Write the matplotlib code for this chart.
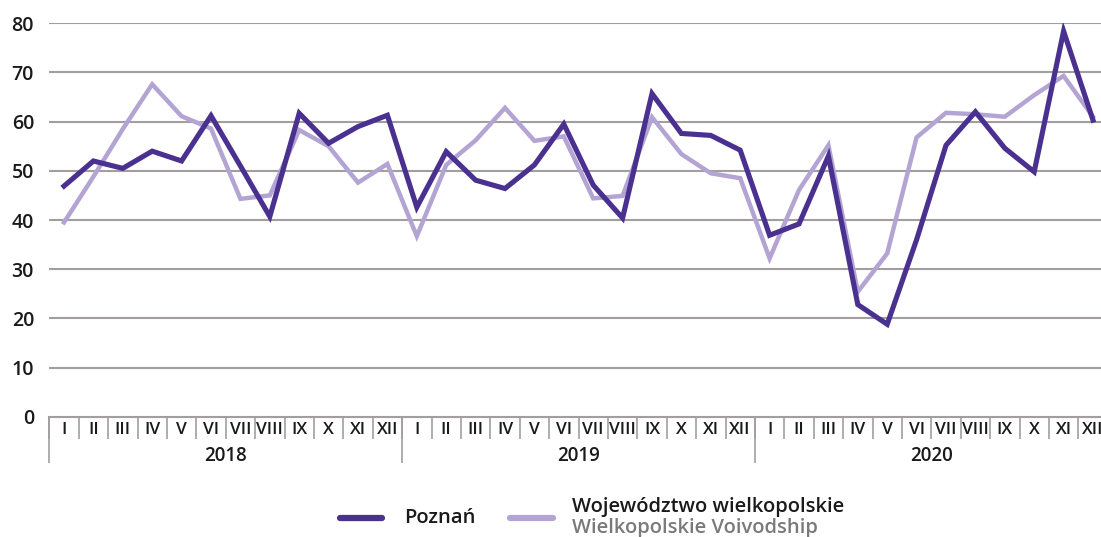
"""
Poznań vs Województwo wielkopolskie, monthly index 2018-2020.
"""

import matplotlib
matplotlib.use("Agg")
import matplotlib.pyplot as plt
from matplotlib.lines import Line2D
import numpy as np

plt.rcParams["font.family"] = ["Open Sans", "DejaVu Sans"]
plt.rcParams["font.weight"] = "semibold"

MONTHS = ["I", "II", "III", "IV", "V", "VI", "VII", "VIII", "IX", "X", "XI", "XII"]
YEARS = ["2018", "2019", "2020"]
MONTH_LABELS = MONTHS * len(YEARS)

POZNAN = [46.9, 52.0, 50.5, 54.0, 52.0, 61.2, 51.0, 40.7, 61.7, 55.6, 59.0, 61.3,
          42.6, 53.9, 48.1, 46.4, 51.2, 59.5, 47.1, 40.4, 65.7, 57.6, 57.2, 54.2,
          36.9, 39.2, 53.0, 22.8, 18.8, 36.0, 55.2, 62.0, 54.6, 49.8, 78.4, 60.3]
WIELKOPOLSKIE = [39.5, 48.8, 58.5, 67.6, 61.1, 58.6, 44.3, 45.0, 58.3, 55.0, 47.6, 51.4,
                 36.7, 51.2, 56.2, 62.8, 56.1, 57.0, 44.4, 44.9, 60.9, 53.4, 49.5, 48.5,
                 32.2, 46.1, 55.2, 25.4, 33.2, 56.8, 61.8, 61.5, 61.0, 65.4, 69.3, 61.0]

DARK = "#4a3190"
LIGHT = "#b3a4d4"
GRID = "#a29e9e"
TEXT = "#1a1a1a"

W, H, DPI = 1101, 537, 100
fig = plt.figure(figsize=(W / DPI, H / DPI), dpi=DPI)

# axes placed in pixels; right edge runs past the figure like the original crop
left, right, top, bottom = 49.3, 1107.7, 23.3, 416.7
ax = fig.add_axes([left / W, 1 - bottom / H, (right - left) / W, (bottom - top) / H])

n = len(MONTH_LABELS)
x = np.arange(n) + 0.5
ax.plot(x, WIELKOPOLSKIE, color=LIGHT, lw=3.2, solid_joinstyle="miter", zorder=3)
ax.plot(x, POZNAN, color=DARK, lw=3.7, solid_joinstyle="miter", zorder=4)

ax.set_xlim(0, n)
ax.set_ylim(0, 80)
ax.set_yticks(np.arange(0, 81, 10))
ax.tick_params(axis="y", length=0, pad=11, labelsize=14, labelcolor=TEXT)
for v in range(10, 81, 10):
    ax.axhline(v, color=GRID, lw=1.5, zorder=1)

for side in ["left", "right", "top"]:
    ax.spines[side].set_visible(False)
ax.spines["bottom"].set_color(GRID)
ax.spines["bottom"].set_linewidth(1.5)

# month labels + short separators
ax.set_xticks(x)
ax.set_xticklabels(MONTH_LABELS)
ax.set_xticks(np.arange(n + 1), minor=True)
ax.tick_params(axis="x", which="major", length=0, pad=4, labelsize=12.5, labelcolor=TEXT)
ax.tick_params(axis="x", which="minor", length=16, width=1.2, color=GRID)

# year labels + long separators
sec = ax.secondary_xaxis("bottom")
sec.spines["bottom"].set_visible(False)
sec.set_xticks([6 + 12 * i for i in range(len(YEARS))])
sec.set_xticklabels(YEARS)
sec.set_xticks([12 * i for i in range(len(YEARS) + 1)], minor=True)
sec.tick_params(axis="x", which="major", length=0, pad=21, labelsize=13.5, labelcolor=TEXT)
sec.tick_params(axis="x", which="minor", length=33, width=1.2, color=GRID)

# legend, drawn by hand for the two-colour second label
fig.add_artist(Line2D([340 / W, 382 / W], [1 - 518 / H] * 2, color=DARK, lw=4.5,
                      solid_capstyle="round"))
fig.text(404 / W, 1 - 518 / H, "Poznań", fontsize=14.5, va="center", color=TEXT)
fig.add_artist(Line2D([510 / W, 553 / W], [1 - 518 / H] * 2, color=LIGHT, lw=4.5,
                      solid_capstyle="round"))
fig.text(572 / W, 1 - 507 / H, "Województwo wielkopolskie", fontsize=14.5, va="center",
         color=TEXT)
fig.text(572 / W, 1 - 528 / H, "Wielkopolskie Voivodship", fontsize=14.5, va="center",
         color="#7a7a7a")

fig.savefig("out.png", dpi=DPI)
